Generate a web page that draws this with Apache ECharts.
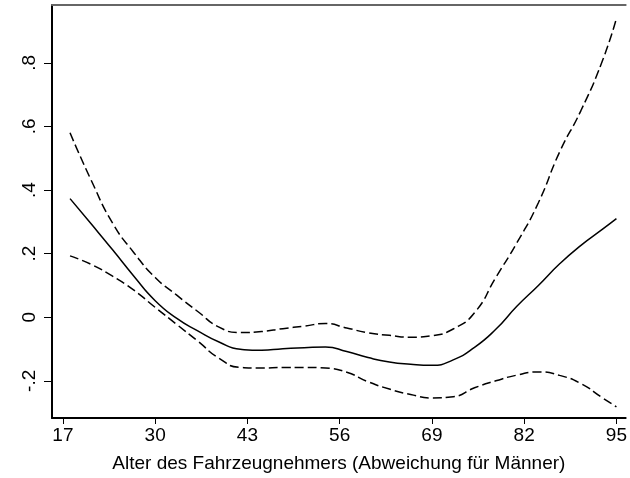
<!DOCTYPE html>
<html>
<head>
<meta charset="utf-8">
<script src="https://cdn.jsdelivr.net/npm/echarts@6/dist/echarts.min.js"></script>
<style>html,body{margin:0;padding:0;background:#fff;}#c{width:630px;height:478px;}</style>
</head>
<body>
<div id="c"></div>
<script>
const ages = [18,21,24,27,30,33,36,39,42,45,48,51,54,57,60,63,66,69,72,75,78,81,84,87,90,93,95];
const estimate = [0.373,0.293,0.212,0.129,0.052,-0.003,-0.043,-0.078,-0.101,-0.104,-0.099,-0.096,-0.094,-0.108,-0.127,-0.141,-0.148,-0.151,-0.134,-0.095,-0.038,0.035,0.1,0.168,0.226,0.276,0.31];
const upper = [0.58,0.43,0.296,0.203,0.125,0.07,0.018,-0.031,-0.048,-0.045,-0.036,-0.028,-0.02,-0.034,-0.049,-0.057,-0.063,-0.058,-0.037,0.014,0.125,0.235,0.36,0.52,0.65,0.805,0.94];
const lower = [0.193,0.166,0.129,0.085,0.031,-0.022,-0.075,-0.129,-0.158,-0.16,-0.158,-0.158,-0.16,-0.173,-0.203,-0.226,-0.243,-0.254,-0.25,-0.222,-0.2,-0.182,-0.172,-0.183,-0.209,-0.253,-0.282];
const xTicks = [17,30,43,56,69,82,95];
const yTicks = [-0.2,0,0.2,0.4,0.6,0.8];
const yTickLabels = ['-.2','0','.2','.4','.6','.8'];
const xTitle = 'Alter des Fahrzeugnehmers (Abweichung für Männer)';

const font = 'Liberation Sans, Arial, Helvetica, sans-serif';
const pair = arr => ages.map((a,i)=>[a,arr[i]]);
const chart = echarts.init(document.getElementById('c'), null, {renderer:'canvas'});
chart.setOption({
  animation:false,
  backgroundColor:'#fff',
  grid:{left:52,top:5,right:0,bottom:54,containLabel:false},
  xAxis:[{
    type:'value', min:15.46, max:96.3, position:'bottom',
    name:xTitle, nameLocation:'middle', nameGap:36,
    nameTextStyle:{fontFamily:font,fontSize:19,color:'#000'},
    axisLine:{show:true,onZero:false,lineStyle:{color:'#000',width:2}},
    axisTick:{show:true,length:6,customValues:xTicks,lineStyle:{color:'#000',width:1}},
    axisLabel:{customValues:xTicks,margin:8,fontFamily:font,fontSize:19,color:'#000'},
    splitLine:{show:false}
  },{
    type:'value', min:15.46, max:96.3, position:'top',
    axisLine:{show:true,onZero:false,lineStyle:{color:'#666',width:2}},
    axisTick:{show:false},axisLabel:{show:false},splitLine:{show:false}
  }],
  yAxis:{
    type:'value', min:-0.317, max:0.982,
    axisLine:{show:true,onZero:false,lineStyle:{color:'#000',width:2}},
    axisTick:{show:true,length:8,customValues:yTicks,lineStyle:{color:'#000',width:1}},
    axisLabel:{customValues:yTicks,rotate:90,margin:13,align:'center',verticalAlign:'bottom',
      fontFamily:font,fontSize:19,color:'#000',
      formatter:v=>{const i=yTicks.findIndex(t=>Math.abs(t-v)<1e-9);return i>=0?yTickLabels[i]:'';}},
    splitLine:{show:false}
  },
  series:[
    {type:'line',data:pair(upper),smooth:0.55,showSymbol:false,lineStyle:{color:'#000',width:1.5,type:[9,4]}},
    {type:'line',data:pair(estimate),smooth:0.55,showSymbol:false,lineStyle:{color:'#000',width:1.5}},
    {type:'line',data:pair(lower),smooth:0.55,showSymbol:false,lineStyle:{color:'#000',width:1.5,type:[9,4]}}
  ]
});
</script>
</body>
</html>
